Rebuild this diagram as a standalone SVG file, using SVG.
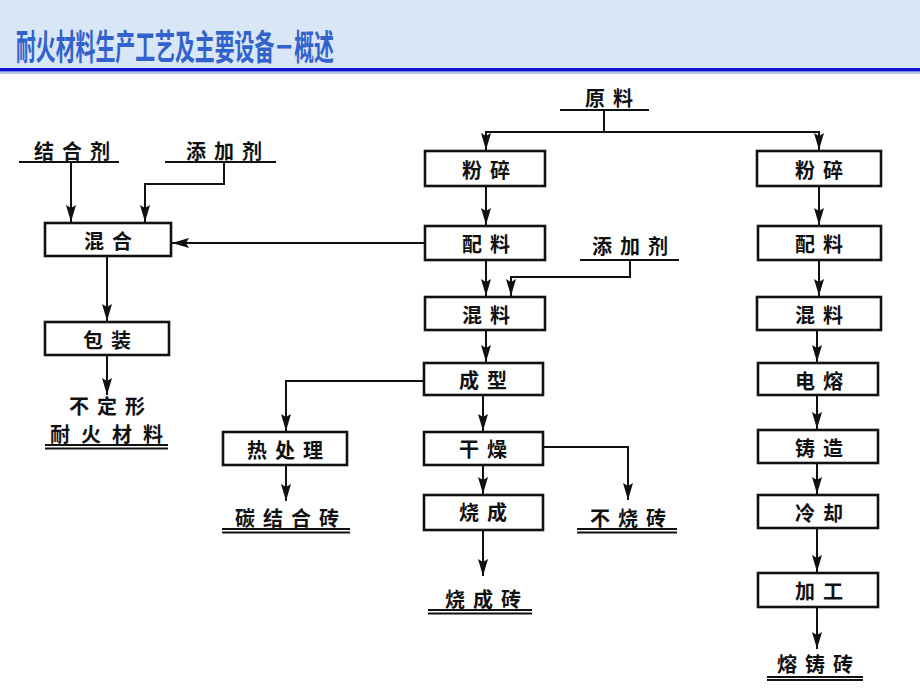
<svg xmlns="http://www.w3.org/2000/svg" width="920" height="690" viewBox="0 0 920 690">
<defs>
<style>
.bx{fill:#fff;stroke:#111;stroke-width:2.6}
.t{font-family:"Noto Sans CJK SC","Noto Sans CJK JP",sans-serif;font-size:20px;font-weight:700;fill:#111;text-anchor:middle;dominant-baseline:central;letter-spacing:8px}
.c{fill:none;stroke:#111;stroke-width:2}
.u{stroke:#111;stroke-width:2}
.title{font-family:"Noto Sans CJK SC","Noto Sans CJK JP",sans-serif;font-size:35px;font-weight:700;fill:#3262cc}
</style>
<marker id="arr" markerUnits="userSpaceOnUse" markerWidth="18" markerHeight="12" viewBox="-18 -6 18 12" refX="0" refY="0" orient="auto">
<path d="M0,0 L-17,-5 L-14,0 L-17,5 z" fill="#111"/>
</marker>
</defs>
<rect x="0" y="0" width="920" height="690" fill="#fff"/>
<rect x="0" y="0" width="920" height="68" fill="#d8e6f5"/>
<rect x="0" y="68" width="920" height="3.5" fill="#0a14d2"/>
<rect x="0" y="72" width="920" height="2" fill="#b4c8e6"/>
<text class="title" x="16" y="60" textLength="318" lengthAdjust="spacingAndGlyphs">耐火材料生产工艺及主要设备－概述</text>

<g id="connectors">
<path class="c" d="M71,162 V222" marker-end="url(#arr)"/>
<path class="c" d="M224,162 V184 H145 V222" marker-end="url(#arr)"/>
<path class="c" d="M425,243 H172" marker-end="url(#arr)"/>
<path class="c" d="M107,256 V321" marker-end="url(#arr)"/>
<path class="c" d="M107,355 V395" marker-end="url(#arr)"/>
<path class="c" d="M604,110 V132"/>
<path class="c" d="M604,132 H486 V150" marker-end="url(#arr)"/>
<path class="c" d="M604,132 H819 V150" marker-end="url(#arr)"/>
<path class="c" d="M486,186 V225" marker-end="url(#arr)"/>
<path class="c" d="M486,260 V296" marker-end="url(#arr)"/>
<path class="c" d="M630,260 V277 H511 V296" marker-end="url(#arr)"/>
<path class="c" d="M486,330 V362" marker-end="url(#arr)"/>
<path class="c" d="M424,381 H286 V431" marker-end="url(#arr)"/>
<path class="c" d="M286,465 V501" marker-end="url(#arr)"/>
<path class="c" d="M483,395 V431" marker-end="url(#arr)"/>
<path class="c" d="M543,447 H628 V500" marker-end="url(#arr)"/>
<path class="c" d="M483,465 V494" marker-end="url(#arr)"/>
<path class="c" d="M483,530 V576" marker-end="url(#arr)"/>
<path class="c" d="M819,186 V225" marker-end="url(#arr)"/>
<path class="c" d="M819,260 V296" marker-end="url(#arr)"/>
<path class="c" d="M817,330 V362" marker-end="url(#arr)"/>
<path class="c" d="M817,395 V429" marker-end="url(#arr)"/>
<path class="c" d="M817,463 V494" marker-end="url(#arr)"/>
<path class="c" d="M817,528 V572" marker-end="url(#arr)"/>
<path class="c" d="M817,607 V649" marker-end="url(#arr)"/>
</g>

<g id="n-jiehe"><text class="t" x="76" y="150">结合剂</text><line class="u" x1="19" y1="162" x2="119" y2="162"/></g>
<g id="n-tianjia1"><text class="t" x="228" y="150">添加剂</text><line class="u" x1="165" y1="162" x2="276" y2="162"/></g>
<g id="n-hunhe"><rect class="bx" x="45" y="223" width="126" height="33"/><text class="t" x="112" y="240">混合</text></g>
<g id="n-baozhuang"><rect class="bx" x="45" y="322" width="124" height="33"/><text class="t" x="111" y="339">包装</text></g>
<g id="n-budingxing"><text class="t" x="111" y="405">不定形</text><text class="t" x="112" y="433" style="letter-spacing:11px">耐火材料</text><line class="u" x1="45" y1="445" x2="168" y2="445"/><line class="u" x1="45" y1="448.5" x2="168" y2="448.5"/></g>

<g id="n-yuanliao"><text class="t" x="613" y="97">原料</text><line class="u" x1="560" y1="110" x2="649" y2="110"/></g>
<g id="n-fensui1"><rect class="bx" x="425" y="151" width="120" height="35"/><text class="t" x="490" y="169">粉碎</text></g>
<g id="n-peiliao1"><rect class="bx" x="425" y="226" width="120" height="34"/><text class="t" x="490" y="243">配料</text></g>
<g id="n-tianjia2"><text class="t" x="634" y="245">添加剂</text><line class="u" x1="580" y1="260" x2="679" y2="260"/></g>
<g id="n-hunliao1"><rect class="bx" x="425" y="297" width="120" height="33"/><text class="t" x="490" y="314">混料</text></g>
<g id="n-chengxing"><rect class="bx" x="424" y="363" width="119" height="32"/><text class="t" x="487" y="379">成型</text></g>
<g id="n-rechuli"><rect class="bx" x="223" y="432" width="124" height="33"/><text class="t" x="289" y="449">热处理</text></g>
<g id="n-tanjiehe"><text class="t" x="291" y="517">碳结合砖</text><line class="u" x1="222" y1="529" x2="350" y2="529"/><line class="u" x1="222" y1="532.5" x2="350" y2="532.5"/></g>
<g id="n-ganzao"><rect class="bx" x="424" y="432" width="119" height="33"/><text class="t" x="487" y="448">干燥</text></g>
<g id="n-bushao"><text class="t" x="632" y="517">不烧砖</text><line class="u" x1="577" y1="529" x2="677" y2="529"/><line class="u" x1="577" y1="532.5" x2="677" y2="532.5"/></g>
<g id="n-shaocheng"><rect class="bx" x="424" y="495" width="119" height="35"/><text class="t" x="487" y="511">烧成</text></g>
<g id="n-shaochengzhuan"><text class="t" x="487" y="598">烧成砖</text><line class="u" x1="428" y1="610" x2="532" y2="610"/><line class="u" x1="428" y1="613.5" x2="532" y2="613.5"/></g>

<g id="n-fensui2"><rect class="bx" x="757" y="151" width="124" height="35"/><text class="t" x="823" y="169">粉碎</text></g>
<g id="n-peiliao2"><rect class="bx" x="758" y="226" width="123" height="34"/><text class="t" x="823" y="243">配料</text></g>
<g id="n-hunliao2"><rect class="bx" x="757" y="297" width="124" height="33"/><text class="t" x="823" y="314">混料</text></g>
<g id="n-dianrong"><rect class="bx" x="758" y="363" width="120" height="32"/><text class="t" x="823" y="380">电熔</text></g>
<g id="n-zhuzao"><rect class="bx" x="758" y="430" width="120" height="33"/><text class="t" x="823" y="447">铸造</text></g>
<g id="n-lengque"><rect class="bx" x="758" y="495" width="120" height="33"/><text class="t" x="823" y="512">冷却</text></g>
<g id="n-jiagong"><rect class="bx" x="758" y="573" width="120" height="34"/><text class="t" x="823" y="590">加工</text></g>
<g id="n-rongzhu"><text class="t" x="819" y="663">熔铸砖</text><line class="u" x1="767" y1="677" x2="863" y2="677"/><line class="u" x1="767" y1="680" x2="863" y2="680"/></g>
</svg>
